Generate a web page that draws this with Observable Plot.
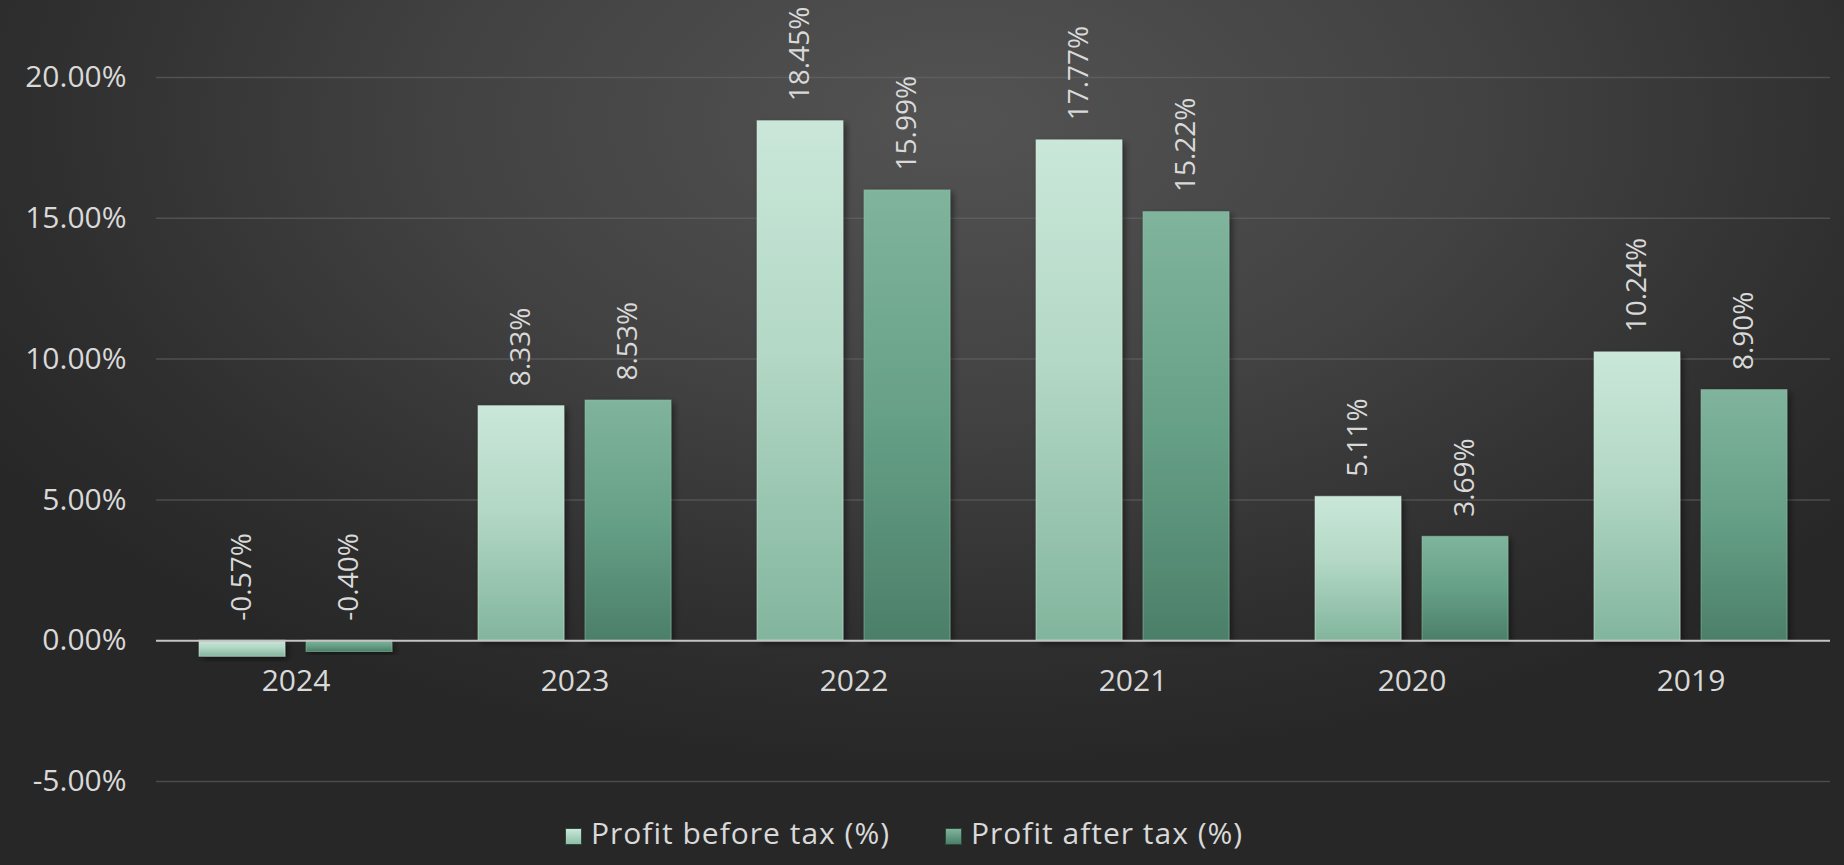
<!DOCTYPE html>
<html>
<head>
<meta charset="utf-8">
<script src="https://cdn.jsdelivr.net/npm/d3@7"></script>
<script src="https://cdn.jsdelivr.net/npm/@observablehq/plot@0.6"></script>
<style>
  html, body { margin: 0; padding: 0; }
  body {
    width: 1844px; height: 865px; overflow: hidden;
    background: radial-gradient(ellipse 62% 75% at 52% 14%, #535353 0%, #424242 45%, #2f2f2f 80%, #272727 100%);
    font-family: "Open Sans", sans-serif;
    position: relative;
  }
  #chart svg { display: block; }
  #legend { position: relative; height: 65px; color: #d9d9d9; }
  .item { position: absolute; top: 0; height: 65px; }
  .sw { position: absolute; top: 28px; width: 17px; height: 17px; border: 1px solid #2c4a3c; box-sizing: border-box; }
  .lt { position: absolute; top: 13px; font-size: 30px; letter-spacing: 1px; line-height: 40px; white-space: nowrap; }
</style>
</head>
<body>
<div id="chart"></div>
<div id="legend"></div>
<script>
const years = ["2024", "2023", "2022", "2021", "2020", "2019"];
const beforeTax = [-0.57, 8.33, 18.45, 17.77, 5.11, 10.24];
const afterTax = [-0.40, 8.53, 15.99, 15.22, 3.69, 8.90];
const seriesNames = ["Profit before tax (%)", "Profit after tax (%)"];
const yTicks = [-5, 0, 5, 10, 15, 20];

const rows = years.flatMap((yr, i) => [
  {year: yr, series: seriesNames[0], value: beforeTax[i]},
  {year: yr, series: seriesNames[1], value: afterTax[i]}
]);

const fmt = v => v.toFixed(2) + "%";

const chart = Plot.plot({
  width: 1844,
  height: 800,
  marginLeft: 155,
  marginRight: 13,
  marginTop: 77,
  marginBottom: 19,
  style: {background: "transparent", color: "#d9d9d9", fontFamily: "'Open Sans', sans-serif", fontSize: "30px", overflow: "visible"},
  fx: {domain: years, padding: 0, axis: null},
  x: {domain: seriesNames, paddingInner: 0.194, paddingOuter: 0.389, axis: null},
  y: {domain: [-5, 20], ticks: yTicks, tickFormat: fmt, tickSize: 0, tickPadding: 30, label: null},
  marks: [
    Plot.ruleY(yTicks.filter(t => t !== 0), {stroke: "#6a6a6a", strokeOpacity: 0.55, strokeWidth: 1.5}),
    Plot.barY(rows.filter(d => d.series === seriesNames[0]), {fx: "year", x: "series", y: "value", fill: "url(#gBefore)", stroke: "#d6eee2", strokeOpacity: 0.5, strokeWidth: 1}),
    Plot.barY(rows.filter(d => d.series === seriesNames[1]), {fx: "year", x: "series", y: "value", fill: "url(#gAfter)", stroke: "#8fc6ac", strokeOpacity: 0.5, strokeWidth: 1}),
    Plot.ruleY([0], {stroke: "#c4c4c4", strokeWidth: 2}),
    Plot.text(rows, {fx: "year", x: "series", y: d => Math.max(d.value, 0), text: d => fmt(d.value), rotate: -90, textAnchor: "start", dy: -20, fontSize: 28, fill: "#d9d9d9"}),
    Plot.text(years, {fx: d => d, y: () => 0, text: d => d, dy: 41, fontSize: 30, fill: "#d9d9d9"})
  ]
});

document.getElementById("chart").appendChild(chart);

const svg = d3.select(chart);
svg.insert("defs", ":first-child").html(`
  <linearGradient id="gBefore" x1="0" y1="0" x2="0" y2="1">
    <stop offset="0" stop-color="#cae7d9"/>
    <stop offset="0.45" stop-color="#b3d8c5"/>
    <stop offset="1" stop-color="#82b59d"/>
  </linearGradient>
  <linearGradient id="gAfter" x1="0" y1="0" x2="0" y2="1">
    <stop offset="0" stop-color="#80b49c"/>
    <stop offset="0.5" stop-color="#66a087"/>
    <stop offset="1" stop-color="#4c7f69"/>
  </linearGradient>
  <filter id="shadow" x="-20%" y="-20%" width="150%" height="150%">
    <feDropShadow dx="3" dy="3" stdDeviation="3" flood-color="#000" flood-opacity="0.45"/>
  </filter>
`);
svg.selectAll("g[aria-label='bar'] rect").attr("filter", "url(#shadow)");

// legend
const legendSwatches = ["linear-gradient(#cae7d9, #8fbfa8)", "linear-gradient(#80b49c, #4c7f69)"];
const legendPos = [[565, 591], [945, 971]];
const legend = d3.select("#legend");
seriesNames.forEach((name, i) => {
  const item = legend.append("div").attr("class", "item");
  item.append("div").attr("class", "sw").style("left", legendPos[i][0] + "px").style("background", legendSwatches[i]);
  item.append("div").attr("class", "lt").style("left", legendPos[i][1] + "px").text(name);
});
</script>
</body>
</html>
